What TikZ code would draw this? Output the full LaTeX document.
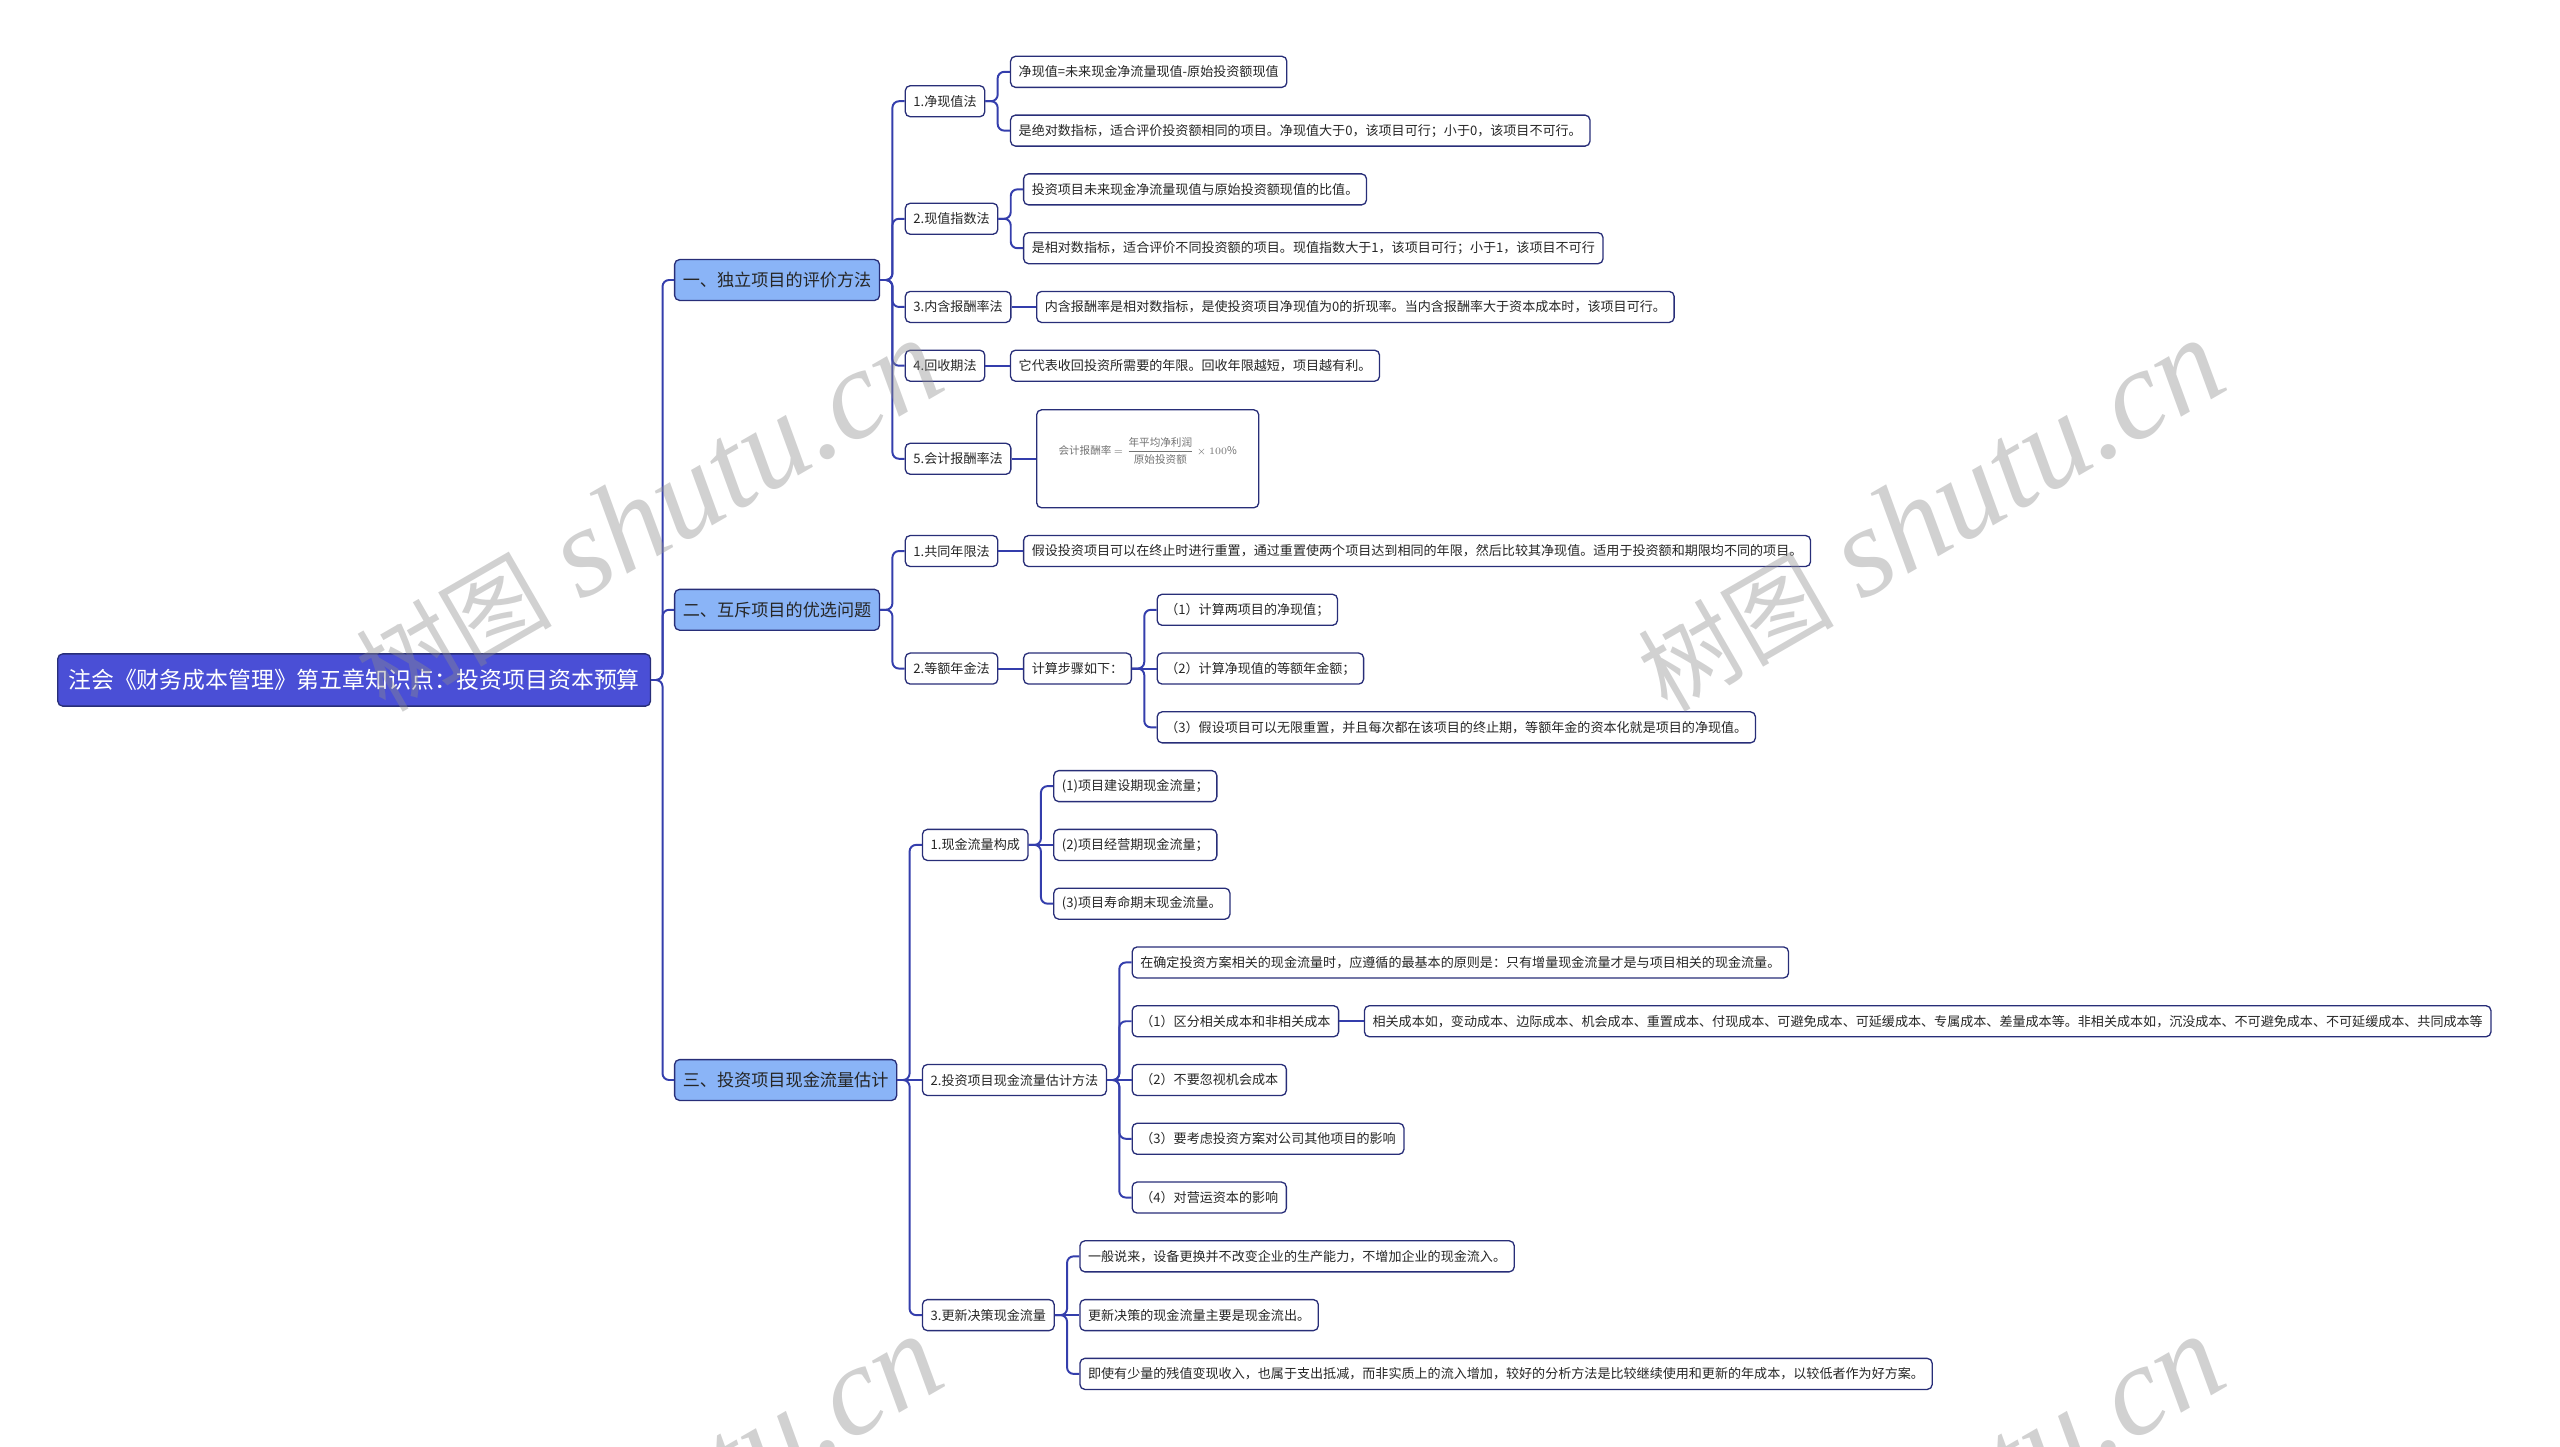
\documentclass[tikz,border=0pt]{standalone}
\usepackage{fontspec}
\setmainfont{Noto Sans CJK SC}
\newfontfamily\wmlatin{Liberation Serif}
\usetikzlibrary{positioning}
\definecolor{rootfill}{RGB}{74,79,214}
\definecolor{sectfill}{RGB}{138,180,247}
\definecolor{boxline}{RGB}{40,46,120}
\definecolor{linkline}{RGB}{52,62,172}
\tikzset{
    rootbox/.style = {rectangle, rounded corners=3pt, minimum height=32pt, inner xsep=6.5pt, draw=boxline, line width=0.8pt, fill=rootfill, text=white, font=\fontsize{14}{16}\selectfont},
    sectbox/.style = {rectangle, rounded corners=3pt, minimum height=25pt, inner xsep=5pt, draw=boxline, line width=0.8pt, fill=sectfill, text=black!85, font=\fontsize{10.5}{12}\selectfont},
    leaf/.style = {rectangle, rounded corners=3pt, minimum height=19pt, inner xsep=5pt, draw=boxline, line width=0.8pt, fill=white, text=black!85, font=\fontsize{8}{9}\selectfont},
    formtext/.style = {text=black!55, font=\fontsize{6.5}{7}\selectfont},
    link/.style = {draw=linkline, line width=1.2pt, rounded corners=4pt},
    watermark/.style = {text=black!45, opacity=0.4, rotate=30, font=\fontsize{78}{78}\selectfont}
}

\begin{document}
\begin{tikzpicture}[x=1pt, y=-1pt]
\useasboundingbox (0,0) rectangle (1568,886);

% Root
\node (root) [rootbox, anchor=west] at (35,416.5) {注会《财务成本管理》第五章知识点：投资项目资本预算};

% Sections
\node (indep) [sectbox, right=14pt of root, yshift=245pt] {一、独立项目的评价方法};
\node (mutex) [sectbox, right=14pt of root, yshift=43pt] {二、互斥项目的优选问题};
\node (cash) [sectbox, right=14pt of root, yshift=-245pt] {三、投资项目现金流量估计};

% Independent projects
\node (npv) [leaf, right=15pt of indep, yshift=109.5pt] {1.净现值法};
\node (pvi) [leaf, right=15pt of indep, yshift=37.5pt] {2.现值指数法};
\node (irr) [leaf, right=15pt of indep, yshift=-16.5pt] {3.内含报酬率法};
\node (payback) [leaf, right=15pt of indep, yshift=-52.5pt] {4.回收期法};
\node (arr) [leaf, right=15pt of indep, yshift=-109.5pt] {5.会计报酬率法};

\node (npvdef) [leaf, right=15pt of npv, yshift=18pt] {净现值=未来现金净流量现值-原始投资额现值};
\node (npvuse) [leaf, right=15pt of npv, yshift=-18pt] {是绝对数指标，适合评价投资额相同的项目。净现值大于0，该项目可行；小于0，该项目不可行。};
\node (pvidef) [leaf, right=15pt of pvi, yshift=18pt] {投资项目未来现金净流量现值与原始投资额现值的比值。};
\node (pviuse) [leaf, right=15pt of pvi, yshift=-18pt] {是相对数指标，适合评价不同投资额的项目。现值指数大于1，该项目可行；小于1，该项目不可行};
\node (irrdef) [leaf, right=15pt of irr] {内含报酬率是相对数指标，是使投资项目净现值为0的折现率。当内含报酬率大于资本成本时，该项目可行。};
\node (paydef) [leaf, right=15pt of payback] {它代表收回投资所需要的年限。回收年限越短，项目越有利。};
\node (arrbox) [leaf, right=15pt of arr, minimum width=136pt, minimum height=60pt] {};
\node (arrform) [formtext] at ([yshift=5pt]arrbox.center) {会计报酬率 $\displaystyle=\frac{\mbox{年平均净利润}}{\mbox{原始投资额}}\times 100\%$};

% Mutually exclusive projects
\node (common) [leaf, right=15pt of mutex, yshift=36pt] {1.共同年限法};
\node (annuity) [leaf, right=15pt of mutex, yshift=-36pt] {2.等额年金法};
\node (commondef) [leaf, right=15pt of common] {假设投资项目可以在终止时进行重置，通过重置使两个项目达到相同的年限，然后比较其净现值。适用于投资额和期限均不同的项目。};
\node (steps) [leaf, right=15pt of annuity] {计算步骤如下：};
\node (step1) [leaf, right=15pt of steps, yshift=36pt] {（1）计算两项目的净现值；};
\node (step2) [leaf, right=15pt of steps] {（2）计算净现值的等额年金额；};
\node (step3) [leaf, right=15pt of steps, yshift=-36pt] {（3）假设项目可以无限重置，并且每次都在该项目的终止期，等额年金的资本化就是项目的净现值。};

% Cash flow estimation
\node (flow) [leaf, right=15pt of cash, yshift=144pt] {1.现金流量构成};
\node (estim) [leaf, right=15pt of cash] {2.投资项目现金流量估计方法};
\node (renew) [leaf, right=15pt of cash, yshift=-144pt] {3.更新决策现金流量};

\node (flow1) [leaf, right=15pt of flow, yshift=36pt] {(1)项目建设期现金流量；};
\node (flow2) [leaf, right=15pt of flow] {(2)项目经营期现金流量；};
\node (flow3) [leaf, right=15pt of flow, yshift=-36pt] {(3)项目寿命期末现金流量。};

\node (rule) [leaf, right=15pt of estim, yshift=72pt] {在确定投资方案相关的现金流量时，应遵循的最基本的原则是：只有增量现金流量才是与项目相关的现金流量。};
\node (rel) [leaf, right=15pt of estim, yshift=36pt] {（1）区分相关成本和非相关成本};
\node (opp) [leaf, right=15pt of estim] {（2）不要忽视机会成本};
\node (other) [leaf, right=15pt of estim, yshift=-36pt] {（3）要考虑投资方案对公司其他项目的影响};
\node (wc) [leaf, right=15pt of estim, yshift=-72pt] {（4）对营运资本的影响};
\node (reldef) [leaf, right=15pt of rel] {相关成本如，变动成本、边际成本、机会成本、重置成本、付现成本、可避免成本、可延缓成本、专属成本、差量成本等。非相关成本如，沉没成本、不可避免成本、不可延缓成本、共同成本等};

\node (renew1) [leaf, right=15pt of renew, yshift=36pt] {一般说来，设备更换并不改变企业的生产能力，不增加企业的现金流入。};
\node (renew2) [leaf, right=15pt of renew] {更新决策的现金流量主要是现金流出。};
\node (renew3) [leaf, right=15pt of renew, yshift=-36pt] {即使有少量的残值变现收入，也属于支出抵减，而非实质上的流入增加，较好的分析方法是比较继续使用和更新的年成本，以较低者作为好方案。};

% Connections - root
\draw [link] (root.east) -- ++(7,0) |- (indep.west);
\draw [link] (root.east) -- ++(7,0) |- (mutex.west);
\draw [link] (root.east) -- ++(7,0) |- (cash.west);

% Connections - independent projects
\draw [link] (indep.east) -- ++(7.5,0) |- (npv.west);
\draw [link] (indep.east) -- ++(7.5,0) |- (pvi.west);
\draw [link] (indep.east) -- ++(7.5,0) |- (irr.west);
\draw [link] (indep.east) -- ++(7.5,0) |- (payback.west);
\draw [link] (indep.east) -- ++(7.5,0) |- (arr.west);
\draw [link] (npv.east) -- ++(7.5,0) |- (npvdef.west);
\draw [link] (npv.east) -- ++(7.5,0) |- (npvuse.west);
\draw [link] (pvi.east) -- ++(7.5,0) |- (pvidef.west);
\draw [link] (pvi.east) -- ++(7.5,0) |- (pviuse.west);
\draw [link] (irr) -- (irrdef);
\draw [link] (payback) -- (paydef);
\draw [link] (arr) -- (arrbox);

% Connections - mutually exclusive projects
\draw [link] (mutex.east) -- ++(7.5,0) |- (common.west);
\draw [link] (mutex.east) -- ++(7.5,0) |- (annuity.west);
\draw [link] (common) -- (commondef);
\draw [link] (annuity) -- (steps);
\draw [link] (steps.east) -- ++(7.5,0) |- (step1.west);
\draw [link] (steps) -- (step2);
\draw [link] (steps.east) -- ++(7.5,0) |- (step3.west);

% Connections - cash flow estimation
\draw [link] (cash.east) -- ++(7.5,0) |- (flow.west);
\draw [link] (cash) -- (estim);
\draw [link] (cash.east) -- ++(7.5,0) |- (renew.west);
\draw [link] (flow.east) -- ++(7.5,0) |- (flow1.west);
\draw [link] (flow) -- (flow2);
\draw [link] (flow.east) -- ++(7.5,0) |- (flow3.west);
\draw [link] (estim.east) -- ++(7.5,0) |- (rule.west);
\draw [link] (estim.east) -- ++(7.5,0) |- (rel.west);
\draw [link] (estim) -- (opp);
\draw [link] (estim.east) -- ++(7.5,0) |- (other.west);
\draw [link] (estim.east) -- ++(7.5,0) |- (wc.west);
\draw [link] (rel) -- (reldef);
\draw [link] (renew.east) -- ++(7.5,0) |- (renew1.west);
\draw [link] (renew) -- (renew2);
\draw [link] (renew.east) -- ++(7.5,0) |- (renew3.west);

% Watermarks
\begin{scope}
\clip (0,0) rectangle (1568,886);
\node (wm1) [watermark] at (397,316) {{\fontsize{60}{60}\selectfont 树图} {\wmlatin\itshape shutu.cn}};
\node (wm2) [watermark] at (1182,316) {{\fontsize{60}{60}\selectfont 树图} {\wmlatin\itshape shutu.cn}};
\node (wm3) [watermark] at (397,926) {{\fontsize{60}{60}\selectfont 树图} {\wmlatin\itshape shutu.cn}};
\node (wm4) [watermark] at (1182,926) {{\fontsize{60}{60}\selectfont 树图} {\wmlatin\itshape shutu.cn}};
\end{scope}

\end{tikzpicture}
\end{document}
